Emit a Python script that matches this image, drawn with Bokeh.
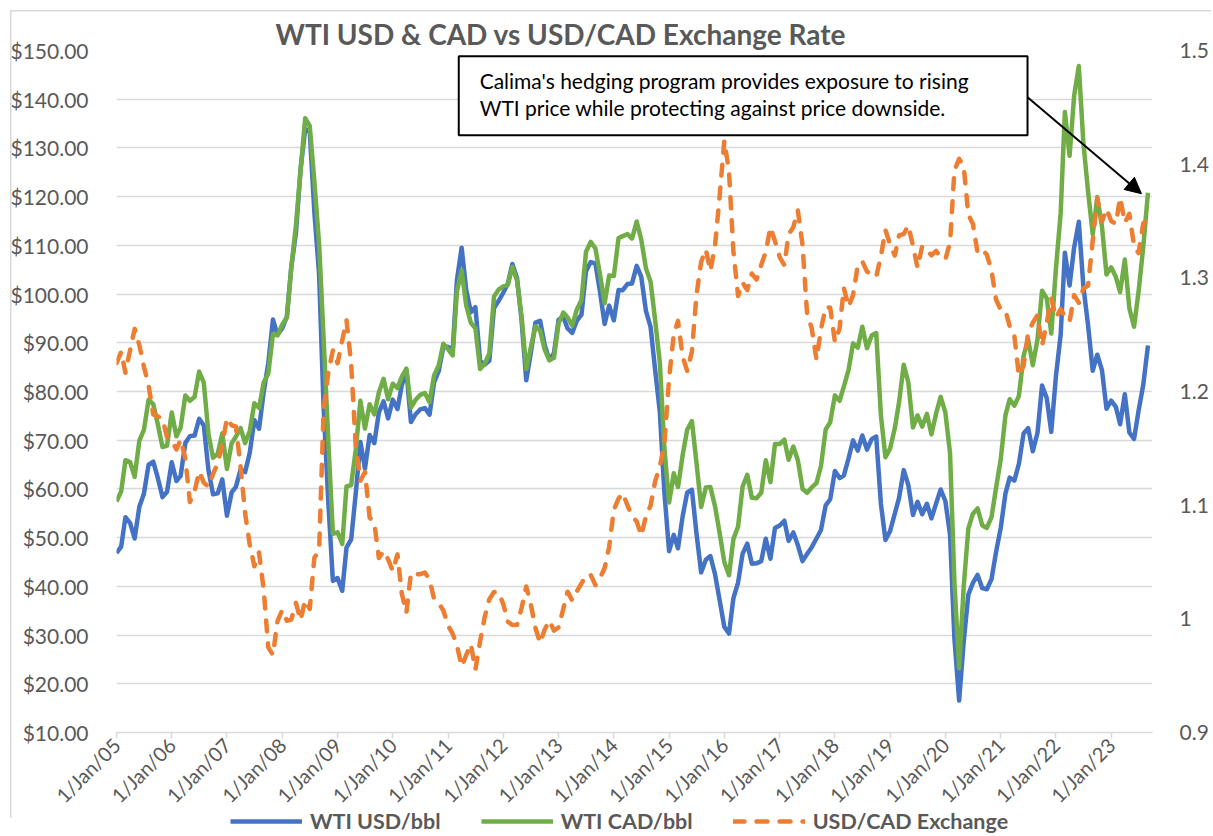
import pandas as pd
from bokeh.plotting import figure
from bokeh.layouts import column
from bokeh.models import (Range1d, LinearAxis, FixedTicker, NumeralTickFormatter,
                          CustomJSTickFormatter, DatetimeTickFormatter, Legend, LegendItem,
                          BoxAnnotation, Label, Arrow, NormalHead)
from bokeh.embed import file_html
from bokeh.resources import INLINE

# ---------------- data (monthly, Jan 2005 - Sep 2023) ----------------
wti_usd = [
    46.84, 48.15, 54.19, 52.98, 49.83, 56.35, 59.00, 64.99, 65.59, 62.26, 58.32, 59.41,
    65.49, 61.63, 62.69, 69.44, 70.84, 70.95, 74.41, 73.04, 63.80, 58.89, 59.08, 61.96,
    54.51, 59.28, 60.44, 63.98, 63.45, 67.49, 74.12, 72.36, 79.92, 85.80, 94.77, 91.69,
    92.97, 95.39, 105.45, 112.58, 125.40, 133.88, 133.37, 116.67, 104.11, 76.61, 57.31, 41.12,
    41.71, 39.09, 47.94, 49.65, 59.03, 69.64, 64.15, 71.05, 69.41, 75.72, 77.99, 74.47,
    78.33, 76.39, 81.20, 84.29, 73.74, 75.34, 76.32, 76.60, 75.24, 81.89, 84.25, 89.15,
    89.17, 88.58, 102.86, 109.53, 100.90, 96.26, 97.30, 86.33, 85.52, 86.32, 97.16, 98.56,
    100.27, 102.20, 106.16, 103.32, 94.66, 82.30, 87.90, 94.13, 94.51, 89.49, 86.53, 87.86,
    94.76, 95.31, 92.94, 92.02, 94.51, 95.77, 104.67, 106.57, 106.29, 100.54, 93.86, 97.63,
    94.62, 100.82, 100.80, 102.07, 102.18, 105.79, 103.59, 96.54, 93.21, 84.40, 75.79, 59.29,
    47.22, 50.58, 47.82, 54.45, 59.27, 59.82, 50.90, 42.87, 45.48, 46.22, 42.44, 37.19,
    31.68, 30.32, 37.55, 40.75, 46.71, 48.76, 44.65, 44.72, 45.18, 49.78, 45.66, 51.97,
    52.50, 53.47, 49.33, 51.06, 48.48, 45.18, 46.63, 48.04, 49.82, 51.58, 56.64, 57.88,
    63.70, 62.23, 62.73, 66.25, 69.98, 67.87, 70.98, 68.06, 70.23, 70.75, 56.96, 49.52,
    51.38, 54.95, 58.15, 63.86, 60.83, 54.66, 57.35, 54.81, 56.95, 53.96, 57.03, 59.88,
    57.52, 50.54, 29.21, 16.55, 28.56, 38.31, 40.71, 42.34, 39.63, 39.40, 41.48, 47.02,
    52.00, 59.04, 62.33, 61.72, 65.17, 71.38, 72.49, 67.73, 71.54, 81.22, 78.65, 71.71,
    83.22, 91.64, 108.50, 101.78, 109.55, 114.84, 101.62, 93.67, 84.26, 87.55, 84.37, 76.44,
    78.12, 76.83, 73.28, 79.45, 71.58, 70.25, 76.07, 81.39, 89.43,
]

wti_cad = [
    57.4, 59.5, 65.9, 65.5, 62.5, 69.9, 72.1, 78.3, 77.4, 73.3, 68.6, 68.9,
    75.7, 70.8, 72.6, 79.2, 78.1, 78.9, 84.1, 81.8, 71.2, 66.4, 67.2, 71.4,
    64.1, 69.4, 70.7, 72.5, 69.4, 71.9, 77.6, 76.6, 81.9, 83.6, 91.8, 91.5,
    93.7, 95.2, 105.4, 114.2, 125.2, 136.1, 134.5, 123.0, 110.3, 90.8, 69.7, 50.8,
    51.1, 48.7, 60.5, 60.8, 68.0, 78.1, 72.4, 77.4, 75.3, 79.8, 82.6, 78.4,
    81.6, 80.7, 83.0, 84.7, 76.7, 78.3, 79.3, 79.7, 77.8, 83.3, 85.4, 89.8,
    88.7, 87.4, 100.5, 104.9, 97.7, 94.1, 93.0, 84.6, 85.7, 87.8, 99.5, 100.9,
    101.6, 101.9, 105.6, 102.8, 95.5, 84.6, 89.0, 93.4, 92.5, 88.6, 86.4, 86.9,
    94.0, 96.2, 95.2, 93.5, 96.8, 98.8, 108.7, 110.7, 109.4, 104.1, 98.1, 103.8,
    103.7, 111.5, 111.9, 112.3, 111.4, 114.9, 111.2, 105.3, 102.5, 94.6, 85.9, 68.4,
    57.2, 63.2, 60.4, 67.0, 72.2, 73.9, 65.4, 56.3, 60.3, 60.4, 56.4, 51.0,
    45.0, 42.3, 49.7, 52.3, 60.5, 62.9, 58.2, 58.1, 59.2, 65.9, 61.4, 69.2,
    69.2, 70.1, 66.0, 68.7, 65.9, 60.0, 59.2, 60.3, 61.2, 64.7, 72.2, 73.7,
    79.2, 78.1, 81.0, 84.4, 89.9, 89.0, 93.3, 88.9, 91.5, 92.0, 75.1, 66.5,
    68.3, 72.5, 77.8, 85.5, 81.9, 72.6, 75.1, 72.8, 75.4, 71.2, 75.5, 78.9,
    75.7, 67.3, 40.7, 23.2, 39.9, 51.9, 54.9, 56.0, 52.5, 52.0, 54.2, 60.2,
    66.1, 75.1, 78.4, 77.1, 79.1, 87.3, 90.7, 85.4, 90.7, 100.7, 99.1, 91.9,
    105.3, 116.6, 137.4, 128.4, 140.7, 146.8, 131.1, 121.1, 112.3, 119.9, 113.9, 104.0,
    105.5, 103.5, 100.4, 107.1, 97.1, 93.3, 100.5, 109.7, 120.8,
]

usd_cad = [
    1.2250, 1.2348, 1.2165, 1.2364, 1.2551, 1.2407, 1.2219, 1.2053, 1.1798, 1.1781, 1.1760, 1.1597,
    1.1565, 1.1490, 1.1577, 1.1411, 1.1027, 1.1119, 1.1297, 1.1198, 1.1161, 1.1275, 1.1368, 1.1531,
    1.1766, 1.1702, 1.1692, 1.1339, 1.0930, 1.0650, 1.0463, 1.0584, 1.0253, 0.9749, 0.9682, 0.9980,
    1.0077, 0.9983, 0.9993, 1.0140, 0.9988, 1.0164, 1.0087, 1.0539, 1.0597, 1.1847, 1.2167, 1.2362,
    1.2249, 1.2450, 1.2628, 1.2245, 1.1522, 1.1215, 1.1292, 1.0892, 1.0844, 1.0535, 1.0597, 1.0524,
    1.0420, 1.0567, 1.0225, 1.0052, 1.0404, 1.0390, 1.0393, 1.0407, 1.0345, 1.0174, 1.0138, 1.0073,
    0.9942, 0.9867, 0.9768, 0.9581, 0.9680, 0.9778, 0.9553, 0.9801, 1.0019, 1.0173, 1.0236, 1.0235,
    1.0130, 0.9975, 0.9946, 0.9947, 1.0093, 1.0285, 1.0129, 0.9919, 0.9787, 0.9906, 0.9985, 0.9896,
    0.9925, 1.0089, 1.0239, 1.0162, 1.0241, 1.0312, 1.0384, 1.0387, 1.0297, 1.0356, 1.0447, 1.0633,
    1.0959, 1.1057, 1.1106, 1.0998, 1.0902, 1.0857, 1.0731, 1.0904, 1.0997, 1.1212, 1.1340, 1.1538,
    1.2115, 1.2502, 1.2621, 1.2304, 1.2180, 1.2353, 1.2848, 1.3141, 1.3250, 1.3060, 1.3285, 1.3717,
    1.4206, 1.3940, 1.3237, 1.2840, 1.2958, 1.2893, 1.3038, 1.2985, 1.3113, 1.3229, 1.3446, 1.3322,
    1.3183, 1.3111, 1.3383, 1.3446, 1.3594, 1.3288, 1.2687, 1.2554, 1.2282, 1.2547, 1.2744, 1.2737,
    1.2436, 1.2555, 1.2912, 1.2745, 1.2848, 1.3110, 1.3146, 1.3055, 1.3027, 1.3008, 1.3191, 1.3420,
    1.3292, 1.3196, 1.3373, 1.3386, 1.3461, 1.3281, 1.3089, 1.3279, 1.3242, 1.3198, 1.3236, 1.3183,
    1.3163, 1.3310, 1.3947, 1.4046, 1.3983, 1.3556, 1.3474, 1.3220, 1.3246, 1.3205, 1.3064, 1.2809,
    1.2718, 1.2712, 1.2574, 1.2490, 1.2138, 1.2226, 1.2514, 1.2605, 1.2673, 1.2401, 1.2602, 1.2819,
    1.2651, 1.2725, 1.2660, 1.2616, 1.2848, 1.2781, 1.2905, 1.2931, 1.3329, 1.3699, 1.3496, 1.3606,
    1.3500, 1.3474, 1.3707, 1.3485, 1.3563, 1.3281, 1.3217, 1.3480, 1.3511,
]

first_month = "2005-01-01"
tick_years = list(range(2005, 2024))
left_ticks = [10, 20, 30, 40, 50, 60, 70, 80, 90, 100, 110, 120, 130, 140, 150]
right_ticks = [0.9, 1.0, 1.1, 1.2, 1.3, 1.4, 1.5]
series_names = ["WTI USD/bbl", "WTI CAD/bbl", "USD/CAD Exchange"]
title_text = "WTI USD & CAD vs USD/CAD Exchange Rate"
note_lines = ["Calima's hedging program provides exposure to rising",
              "WTI price while protecting against price downside."]

months = pd.date_range(first_month, periods=len(wti_usd), freq="MS")


def ms(s):
    return pd.Timestamp(s).value / 1e6


GRAY = "#595959"
FONT = "Lato"
BLUE, GREEN, ORANGE = "#4472C4", "#70AD47", "#ED7D31"
BORDER_CSS = "linear-gradient(#d9d9d9, #d9d9d9)"

W = 1211
H_MAIN = 818
H_LEG = 30
LEG_OVERLAP = 12

p = figure(width=W, height=H_MAIN, x_axis_type="datetime",
           x_range=Range1d(ms("2005-01-01"), ms("2023-10-01")),
           y_range=Range1d(10, 150),
           output_backend="svg", toolbar_location=None,
           min_border_left=116, min_border_right=52, min_border_top=50,
           min_border_bottom=H_MAIN - 732)
p.outline_line_color = None
p.background_fill_color = "white"
p.border_fill_alpha = 0
p.styles = {
    "background-color": "white",
    "background-image": BORDER_CSS + ", " + BORDER_CSS,
    "background-size": "1.5px 100%, 100% 1.5px",
    "background-position": "10px 10px, 10px 10px",
    "background-repeat": "no-repeat",
}

# title
p.title.text = title_text
p.title.align = "left"
p.title.offset = 159
p.title.standoff = 0
p.title.text_font = FONT
p.title.text_font_style = "bold"
p.title.text_font_size = "28px"
p.title.text_color = GRAY

# left axis
ya = p.yaxis[0]
ya.ticker = FixedTicker(ticks=left_ticks)
ya.formatter = NumeralTickFormatter(format="$0.00")
ya.axis_line_color = None
ya.major_tick_line_color = None
ya.minor_tick_line_color = None
ya.major_label_standoff = 22
ya.major_label_text_font = FONT
ya.major_label_text_font_size = "21px"
ya.major_label_text_color = GRAY

p.ygrid.grid_line_color = "#d9d9d9"
p.ygrid.grid_line_width = 1.5
p.xgrid.visible = False

# right axis
p.extra_y_ranges = {"fx": Range1d(0.9, 1.5)}
ra = LinearAxis(y_range_name="fx")
ra.ticker = FixedTicker(ticks=right_ticks)
ra.formatter = CustomJSTickFormatter(code="return tick.toFixed(1).replace(/\\.0$/, '');")
ra.axis_line_color = None
ra.major_tick_line_color = None
ra.minor_tick_line_color = None
ra.major_label_standoff = 21
ra.major_label_text_font = FONT
ra.major_label_text_font_size = "21px"
ra.major_label_text_color = GRAY
p.add_layout(ra, "right")

# x axis
xa = p.xaxis[0]
xa.ticker = FixedTicker(ticks=[ms(f"{y}-01-01") for y in tick_years])
xa.formatter = DatetimeTickFormatter(years="1/%b/%y", months="1/%b/%y", days="1/%b/%y")
xa.major_label_orientation = 0.785398
xa.axis_line_color = "#d9d9d9"
xa.axis_line_width = 1.5
xa.major_tick_line_color = "#d9d9d9"
xa.major_tick_line_width = 1.5
xa.major_tick_in = 0
xa.major_tick_out = 6
xa.minor_tick_line_color = None
xa.major_label_standoff = 3
xa.major_label_text_font = FONT
xa.major_label_text_font_size = "20px"
xa.major_label_text_color = GRAY

# series
line_styles = [dict(line_color=BLUE, line_width=4.5, line_join="round"),
               dict(line_color=GREEN, line_width=4.5, line_join="round"),
               dict(line_color=ORANGE, line_width=4.5, line_dash="11 12",
                    line_cap="round", line_join="round")]
p.line(months, wti_usd, **line_styles[0])
p.line(months, wti_cad, **line_styles[1])
p.line(months, usd_cad, y_range_name="fx", **line_styles[2])

# annotation box, text and arrow
p.add_layout(BoxAnnotation(left=ms("2011-03-13"), right=ms("2021-06-27"), top=148.8, bottom=132.6,
                           fill_color="white", fill_alpha=1, line_color="black", line_alpha=1,
                           line_width=2, level="overlay"))
p.add_layout(Label(x=ms("2011-07-29"), y=143.8, text=note_lines[0], text_font=FONT,
                   text_font_size="21px", text_color="black", text_baseline="middle",
                   level="overlay"))
p.add_layout(Label(x=ms("2011-07-29"), y=138.2, text=note_lines[1], text_font=FONT,
                   text_font_size="21px", text_color="black", text_baseline="middle",
                   level="overlay"))
p.add_layout(Arrow(end=NormalHead(size=16, fill_color="black", line_color="black"),
                   x_start=ms("2021-06-27"), y_start=140.4,
                   x_end=ms("2023-07-20"), y_end=120.6,
                   line_color="black", line_width=2))

# legend strip (separate figure below the chart; the series lie outside its ranges)
lg = figure(width=W, height=H_LEG, x_range=Range1d(0, 1), y_range=Range1d(0, 1),
            output_backend="svg", toolbar_location=None,
            min_border_left=0, min_border_right=0, min_border_top=0, min_border_bottom=0,
            margin=(-LEG_OVERLAP, 0, 0, 0))
lg.axis.visible = False
lg.grid.visible = False
lg.outline_line_color = None
lg.border_fill_alpha = 0
lg.background_fill_alpha = 0
leg_renderers = [lg.line(months, vals, **st)
                 for vals, st in zip([wti_usd, wti_cad, usd_cad], line_styles)]
legend = Legend(items=[LegendItem(label=n, renderers=[r]) for n, r in zip(series_names, leg_renderers)],
                orientation="horizontal", location=(114, 2))
legend.label_text_font = FONT
legend.label_text_font_style = "bold"
legend.label_text_font_size = "21.5px"
legend.label_text_color = GRAY
legend.border_line_color = None
legend.background_fill_alpha = 0
legend.glyph_width = 72
legend.glyph_height = 20
legend.label_height = 20
legend.label_standoff = 8
legend.spacing = 40
legend.padding = 0
legend.margin = 0
lg.add_layout(legend)

open("out.html", "w").write(file_html(column(p, lg, spacing=0), INLINE))
